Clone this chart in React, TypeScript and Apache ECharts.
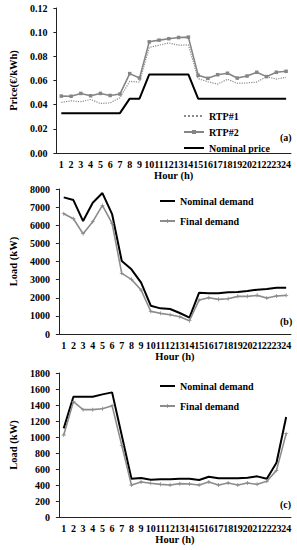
import React, { useEffect, useRef } from "react";
import * as echarts from "echarts";

const hours = ["1","2","3","4","5","6","7","8","9","10","11","12","13","14","15","16","17","18","19","20","21","22","23","24"];
const priceTicks = [0, 0.02, 0.04, 0.06, 0.08, 0.1, 0.12];
const rtp1 = [0.0419,0.0432,0.0424,0.0443,0.0410,0.0415,0.0457,0.0593,0.0587,0.0873,0.0892,0.0911,0.0892,0.0895,0.0615,0.0590,0.0570,0.0610,0.0577,0.0580,0.0587,0.0632,0.0612,0.0626];
const rtp2 = [0.0471,0.0470,0.0493,0.0474,0.0493,0.0476,0.0488,0.0657,0.0620,0.0920,0.0934,0.0946,0.0956,0.0959,0.0643,0.0618,0.0648,0.0660,0.0620,0.0637,0.0668,0.0632,0.0668,0.0676];
const nominalPrice = [0.033,0.033,0.033,0.033,0.033,0.033,0.033,0.045,0.045,0.065,0.065,0.065,0.065,0.065,0.045,0.045,0.045,0.045,0.045,0.045,0.045,0.045,0.045,0.045];
const nominalB = [7537,7390,6232,7243,7776,6618,4026,3566,2831,1562,1415,1379,1158,901,2279,2243,2243,2298,2316,2371,2445,2482,2555,2555];
const finalB = [6636,6360,5533,6195,7096,6103,3346,3015,2426,1250,1140,1066,956,735,1875,2004,1912,1949,2077,2077,2132,1985,2096,2132];
const nominalC = [1108,1504,1504,1504,1533,1558,1020,479,488,467,471,471,479,479,463,504,483,483,483,492,508,479,679,1250];
const finalC = [1025,1442,1342,1342,1354,1392,896,400,438,421,408,400,417,413,400,438,400,425,400,425,408,446,583,1042];

const FONT = "Liberation Serif";
const plus = "path://M4,0L6,0L6,4L10,4L10,6L6,6L6,10L4,10L4,6L0,6L0,4L4,4Z";
const hidden = { color: "rgba(0,0,0,0)", borderWidth: 0, opacity: 0 };

export default function App() {
  const ref = useRef<HTMLDivElement>(null);
  useEffect(() => {
    if (!ref.current) return;
    const chart = echarts.init(ref.current, null, { renderer: "svg" });
    const axisLine = { lineStyle: { color: "#222", width: 1 } };
    const axisTick = { length: 3, lineStyle: { color: "#222" } };
    const lbl = { color: "#000", fontFamily: FONT, fontWeight: "bold" as const, fontSize: 10 };
    const xAx = (gi: number) => ({
      type: "category", gridIndex: gi, data: hours, boundaryGap: true,
      axisLine, axisTick,
      axisLabel: { ...lbl, interval: 0, margin: 6 },
      name: "Hour (h)", nameLocation: "middle", nameGap: 17,
      nameTextStyle: { ...lbl, fontSize: 10.5 },
    });
    const yAx = (gi: number, max: number, interval: number, name: string, fmt: (v: number) => string) => ({
      type: "value", gridIndex: gi, min: 0, max, interval,
      axisLine: { show: true, ...axisLine }, axisTick: { show: true, ...axisTick },
      splitLine: { show: false },
      axisLabel: { ...lbl, margin: 9, formatter: fmt },
      name, nameLocation: "middle", nameGap: 31, nameRotate: 90,
      nameTextStyle: { ...lbl, fontSize: 10.5 },
    });
    const legText = { ...lbl, fontSize: 10, lineHeight: 12 };
    const plain = (v: number) => String(v);
    chart.setOption({
      animation: false,
      backgroundColor: "#fff",
      grid: [
        { left: 43, right: 6, top: 8, height: 145 },
        { left: 43, right: 6, top: 189, height: 145 },
        { left: 43, right: 6, top: 373, height: 144 },
      ],
      xAxis: [xAx(0), xAx(1), xAx(2)],
      yAxis: [
        yAx(0, priceTicks[priceTicks.length - 1], priceTicks[1], "Price(€/kWh)", (v: number) => v.toFixed(2)),
        yAx(1, 8000, 1000, "Load (kW)", plain),
        yAx(2, 1800, 200, "Load (kW)", plain),
      ],
      legend: [
        {
          data: [
            { name: "RTP#1", itemStyle: hidden },
            { name: "RTP#2" },
            { name: "Nominal price", itemStyle: hidden },
          ],
          orient: "vertical", left: 178, top: 105,
          itemWidth: 20, itemHeight: 5, itemGap: 4, textStyle: legText,
        },
        {
          data: [
            { name: "Nominal demand", itemStyle: hidden },
            { name: "Final demand" },
          ],
          orient: "vertical", left: 154, top: 190,
          itemWidth: 15, itemHeight: 5, itemGap: 8, textStyle: legText,
        },
        {
          data: [
            { name: "Nominal demand ", itemStyle: hidden },
            { name: "Final demand " },
          ],
          orient: "vertical", left: 154, top: 375,
          itemWidth: 15, itemHeight: 5, itemGap: 8, textStyle: legText,
          formatter: (n: string) => n.trim(),
        },
      ],
      graphic: [
        { type: "text", left: 280, top: 132, style: { text: "(a)", font: `bold 10px "${FONT}"`, fill: "#000" } },
        { type: "text", left: 280, top: 316, style: { text: "(b)", font: `bold 10px "${FONT}"`, fill: "#000" } },
        { type: "text", left: 280, top: 499, style: { text: "(c)", font: `bold 10px "${FONT}"`, fill: "#000" } },
      ],
      series: [
        {
          name: "RTP#1", type: "line", xAxisIndex: 0, yAxisIndex: 0, data: rtp1,
          symbol: "none", lineStyle: { color: "#8a8a8a", width: 1.2, type: "dotted" }, itemStyle: { color: "#8a8a8a" },
        },
        {
          name: "RTP#2", type: "line", xAxisIndex: 0, yAxisIndex: 0, data: rtp2,
          symbol: "rect", symbolSize: 3.5, showAllSymbol: true,
          lineStyle: { color: "#858585", width: 1.6 }, itemStyle: { color: "#858585" },
        },
        {
          name: "Nominal price", type: "line", xAxisIndex: 0, yAxisIndex: 0, data: nominalPrice,
          symbol: "none", lineStyle: { color: "#000", width: 2 }, itemStyle: { color: "#000" },
        },
        {
          name: "Nominal demand", type: "line", xAxisIndex: 1, yAxisIndex: 1, data: nominalB,
          symbol: "none", lineStyle: { color: "#000", width: 2 }, itemStyle: { color: "#000" },
        },
        {
          name: "Final demand", type: "line", xAxisIndex: 1, yAxisIndex: 1, data: finalB,
          symbol: plus, symbolSize: 4, showAllSymbol: true,
          lineStyle: { color: "#8c8c8c", width: 1.6 }, itemStyle: { color: "#8c8c8c" },
        },
        {
          name: "Nominal demand ", type: "line", xAxisIndex: 2, yAxisIndex: 2, data: nominalC,
          symbol: "none", lineStyle: { color: "#000", width: 2 }, itemStyle: { color: "#000" },
        },
        {
          name: "Final demand ", type: "line", xAxisIndex: 2, yAxisIndex: 2, data: finalC,
          symbol: plus, symbolSize: 4, showAllSymbol: true,
          lineStyle: { color: "#8c8c8c", width: 1.6 }, itemStyle: { color: "#8c8c8c" },
        },
      ],
    });
    return () => chart.dispose();
  }, []);
  return (
    <div
      ref={ref}
      style={{ position: "fixed", left: 0, top: 0, width: 297, height: 550, background: "#fff" }}
    />
  );
}
